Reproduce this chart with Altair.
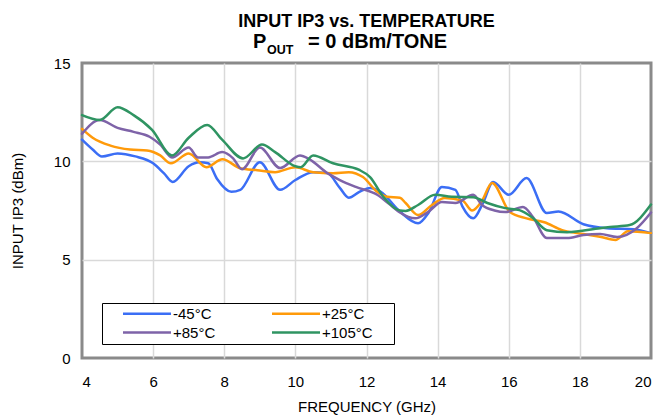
import altair as alt
import pandas as pd

series = ["-45°C", "+25°C", "+85°C", "+105°C"]
colors = ["#3b6ef5", "#ff9a0a", "#7e63a8", "#2f9462"]

freq_m45 = [4.0, 4.3, 4.56, 5.0, 5.5, 6.0, 6.3, 6.55, 7.0, 7.3, 7.55, 7.8, 8.2, 8.45, 9.0, 9.57, 10.0, 10.5, 10.9, 11.25, 11.5, 11.8, 12.1, 12.4, 12.94, 13.45, 13.75, 14.12, 14.5, 14.7, 15.0, 15.28, 15.56, 16.0, 16.5, 17.07, 17.4, 18.1, 18.76, 19.5, 20.0]
ip3_m45 = [11.1, 10.6, 10.25, 10.4, 10.25, 9.9, 9.4, 8.95, 9.75, 9.95, 9.9, 9.1, 8.45, 8.55, 9.95, 8.55, 9.05, 9.45, 9.4, 8.65, 8.15, 8.45, 8.65, 8.45, 7.45, 6.85, 7.4, 8.7, 8.55, 7.7, 7.1, 7.9, 8.95, 8.3, 9.15, 7.37, 7.45, 6.8, 6.6, 6.55, 6.35]

freq_p25 = [4.0, 4.3, 4.8, 5.35, 5.83, 6.2, 6.5, 7.0, 7.5, 7.95, 8.45, 8.93, 9.43, 10.0, 10.5, 11.06, 11.5, 11.9, 12.3, 12.58, 12.94, 13.1, 13.45, 13.84, 14.2, 14.7, 14.97, 15.25, 15.53, 16.03, 16.5, 17.0, 17.5, 18.1, 18.6, 19.0, 19.35, 20.0]
ip3_p25 = [11.65, 11.2, 10.8, 10.6, 10.55, 10.3, 9.9, 10.4, 9.7, 10.1, 9.65, 9.55, 9.45, 9.7, 9.45, 9.4, 9.45, 9.2, 8.45, 8.2, 8.15, 7.88, 7.27, 7.78, 8.13, 8.0, 7.5, 8.0, 8.9, 7.42, 7.1, 6.9, 6.5, 6.3, 6.15, 6.0, 6.45, 6.35]

freq_p85 = [4.0, 4.5, 5.0, 5.45, 5.9, 6.2, 6.53, 7.0, 7.26, 7.55, 7.94, 8.25, 8.5, 9.0, 9.57, 10.13, 10.4, 10.9, 11.25, 11.7, 12.3, 12.66, 12.94, 13.37, 13.73, 14.12, 14.5, 15.0, 15.25, 15.6, 15.9, 16.4, 16.68, 17.07, 17.64, 18.1, 18.57, 19.05, 19.6, 20.0]
ip3_p85 = [11.4, 12.1, 11.7, 11.5, 11.25, 10.85, 10.2, 10.7, 10.2, 10.2, 10.47, 10.15, 9.6, 10.7, 9.66, 10.3, 10.1, 9.4, 9.05, 8.7, 8.3, 7.8, 7.4, 7.1, 7.42, 7.93, 7.88, 8.3, 7.78, 7.5, 7.42, 7.68, 7.17, 6.1, 6.1, 6.25, 6.3, 6.15, 6.6, 7.4]

freq_p105 = [4.0, 4.5, 5.0, 5.45, 5.97, 6.53, 7.0, 7.52, 7.94, 8.53, 9.06, 9.43, 10.0, 10.15, 10.5, 11.06, 11.8, 12.1, 12.47, 12.94, 13.1, 13.45, 13.93, 14.4, 15.0, 15.4, 15.9, 16.3, 16.68, 17.07, 17.64, 18.57, 18.85, 19.4, 20.0]
ip3_p105 = [12.35, 12.1, 12.75, 12.35, 11.6, 10.3, 11.2, 11.85, 11.1, 10.15, 10.85, 10.47, 9.75, 9.7, 10.3, 9.9, 9.56, 9.2, 8.2, 7.5, 7.48, 7.78, 8.3, 8.2, 8.18, 7.88, 7.62, 7.52, 7.12, 6.5, 6.4, 6.6, 6.66, 6.76, 7.8]

x_ticks = [4, 6, 8, 10, 12, 14, 16, 18, 20]
y_ticks = [0, 5, 10, 15]

title_line1 = "INPUT IP3 vs. TEMPERATURE"
title_p = "P"
title_sub = "OUT"
title_rest = "= 0 dBm/TONE"

FONT = "Liberation Sans"

rows = []
for name, fs, vs in zip(series, [freq_m45, freq_p25, freq_p85, freq_p105],
                        [ip3_m45, ip3_p25, ip3_p85, ip3_p105]):
    for i, (f, v) in enumerate(zip(fs, vs)):
        rows.append({"series": name, "freq": f, "ip3": v, "order": i})
df = pd.DataFrame(rows)

grid_test = {"condition": {"test": "datum.value <= 4 || datum.value >= 20", "value": 0}, "value": 1}
grid_test_y = {"condition": {"test": "datum.value <= 0 || datum.value >= 15", "value": 0}, "value": 1}

# legend line symbol (48 px long); the trailing move-to only widens the entry box
legend_symbol = "M-4,0H4M15,0"

lines = alt.Chart(df).mark_line(interpolate="monotone", strokeWidth=2.5, strokeCap="round").encode(
    x=alt.X("freq:Q", scale=alt.Scale(domain=[4, 20], nice=False, zero=False),
            axis=alt.Axis(values=x_ticks, title="FREQUENCY (GHz)", labelPadding=16,
                          titlePadding=10, gridOpacity=grid_test)),
    y=alt.Y("ip3:Q", scale=alt.Scale(domain=[0, 15], nice=False),
            axis=alt.Axis(values=y_ticks, title="INPUT IP3 (dBm)", labelPadding=12,
                          titlePadding=28, gridOpacity=grid_test_y)),
    color=alt.Color("series:N", sort=series,
                    scale=alt.Scale(domain=series, range=colors),
                    legend=alt.Legend(title=None, orient="none", legendX=20, legendY=240,
                                      columns=2, direction="horizontal",
                                      symbolType=legend_symbol, symbolSize=144,
                                      symbolStrokeWidth=2.5, labelFontSize=15, labelFont=FONT,
                                      labelColor="black", labelOffset=18.5, symbolOffset=34.5,
                                      columnPadding=12, rowPadding=3, padding=3,
                                      strokeColor="black", fillColor="white")),
    order="order:Q",
)


def txt(s, x, y, size, align="left"):
    return alt.Chart(pd.DataFrame({"t": [s]})).mark_text(
        align=align, baseline="alphabetic", fontSize=size, fontWeight="bold",
        font=FONT, color="black"
    ).encode(text="t:N", x=alt.value(x), y=alt.value(y))


chart = alt.layer(
    lines,
    txt(title_line1, 284.5, -36, 18, "center"),
    txt(title_p, 171, -15, 20),
    txt(title_sub, 185, -9, 12.5),
    txt(title_rest, 226, -15, 20),
).properties(
    width=569, height=295,
    autosize=alt.AutoSizeParams(type="none"),
    padding={"left": 74, "top": 55, "right": 4, "bottom": 58},
).configure_view(
    stroke="#8a8a8a", strokeWidth=3
).configure_axis(
    domain=False, ticks=False, gridColor="#d9d9d9", gridWidth=1.5,
    labelFont=FONT, labelFontSize=15, labelColor="black",
    titleFont=FONT, titleFontSize=15, titleFontWeight="normal", titleColor="black"
)

chart.save("out.html", embed_options={"renderer": "svg", "actions": False})
